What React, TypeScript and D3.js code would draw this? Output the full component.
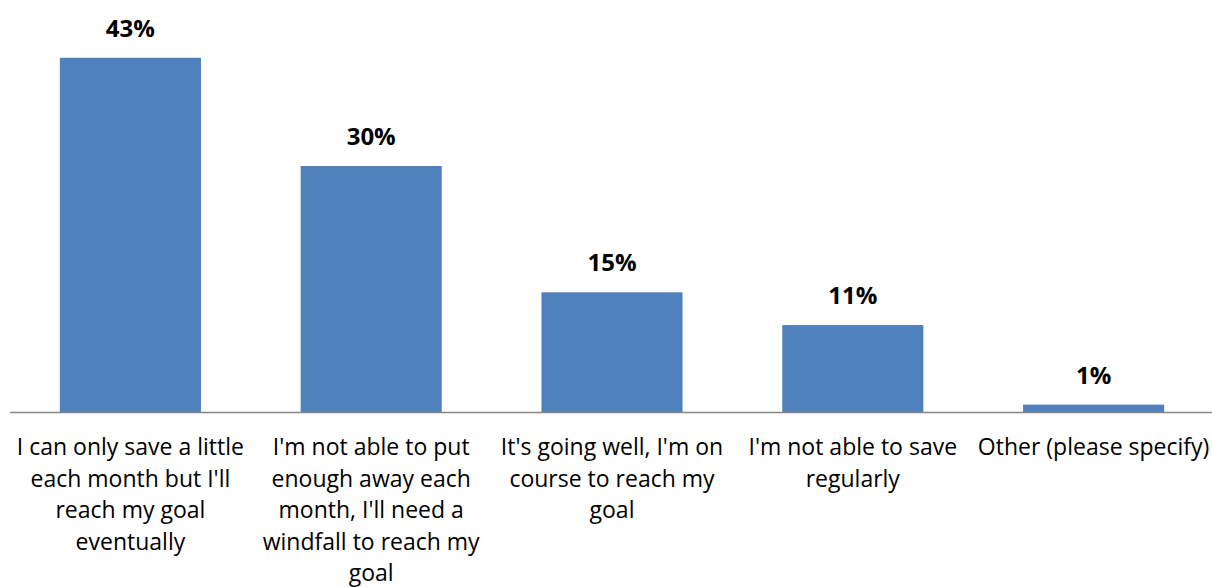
import React from "react";
import * as d3 from "d3";

const categories = ["c1", "c2", "c3", "c4", "c5"];
const categoryLines: string[][] = [
  ["I can only save a little", "each month but I'll", "reach my goal", "eventually"],
  ["I'm not able to put", "enough away each", "month, I'll need a", "windfall to reach my", "goal"],
  ["It's going well, I'm on", "course to reach my", "goal"],
  ["I'm not able to save", "regularly"],
  ["Other (please specify)"],
];
const values = [43.2, 30.0, 14.6, 10.6, 0.9];

const W = 1212;
const H = 587;
const axisY = 412;
const FONT = "'Open Sans', sans-serif";

export default function App() {
  const x = d3
    .scaleBand<string>()
    .domain(categories)
    .range([10, 1214])
    .paddingInner(0.414)
    .paddingOuter(0.207);
  const y = d3.scaleLinear().domain([0, 50]).range([axisY, 2]);

  return (
    <svg
      width={W}
      height={H}
      style={{ position: "absolute", left: 0, top: 0, background: "#fff" }}
    >
      {categories.map((c, i) => {
        const bx = x(c)!;
        const cx = bx + x.bandwidth() / 2;
        return (
          <g key={c}>
            <rect
              x={bx}
              y={y(values[i])}
              width={x.bandwidth()}
              height={axisY - y(values[i])}
              fill="#4F81BD"
            />
            <text
              x={cx}
              y={y(values[i]) - 21}
              textAnchor="middle"
              fontFamily={FONT}
              fontWeight="bold"
              fontSize={24}
              fill="#000"
            >
              {Math.round(values[i])}%
            </text>
            {categoryLines[i].map((line, j) => (
              <text
                key={j}
                x={cx}
                y={455 + j * 31.5}
                textAnchor="middle"
                fontFamily={FONT}
                fontSize={23}
                fill="#000"
              >
                {line}
              </text>
            ))}
          </g>
        );
      })}
      <line x1={10} x2={1212} y1={axisY + 0.5} y2={axisY + 0.5} stroke="#868686" strokeWidth={1.5} />
    </svg>
  );
}
